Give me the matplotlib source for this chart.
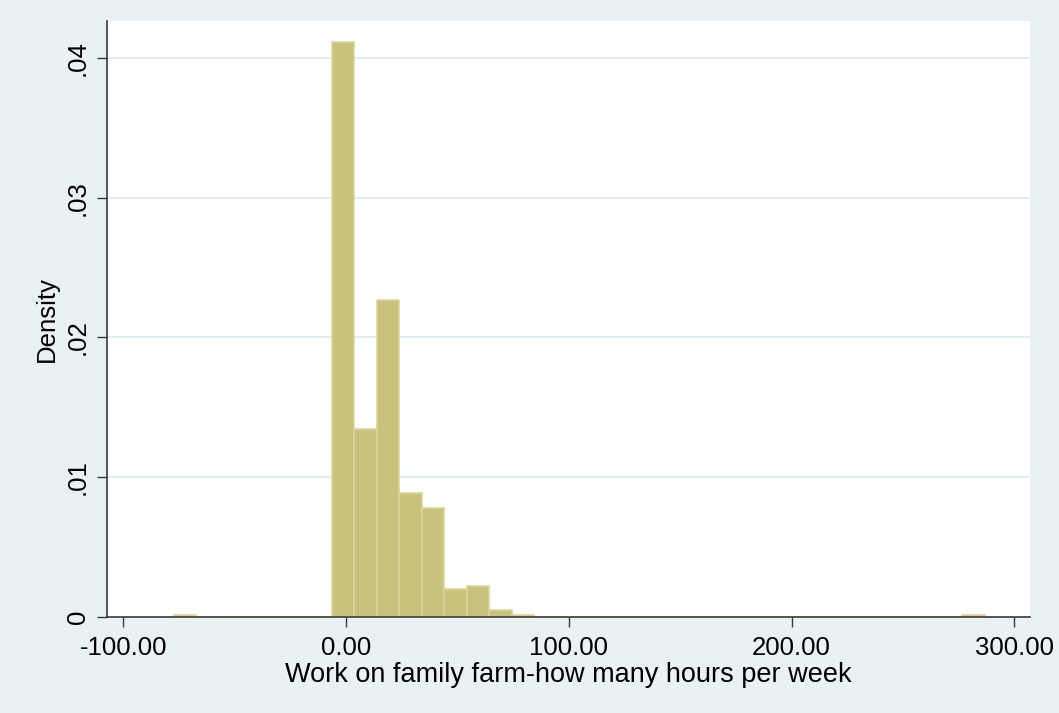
import matplotlib.pyplot as plt
import numpy as np

# histogram bins
bin_start = -77.3
bin_width = 10.11
density = [0.00008, 0, 0, 0, 0, 0, 0,
           0.04114, 0.01343, 0.02270, 0.00884, 0.00778, 0.00195, 0.00219,
           0.00049, 0.00008,
           0, 0, 0, 0, 0, 0, 0, 0, 0, 0, 0, 0, 0, 0, 0, 0, 0, 0, 0,
           0.00008]

x_ticks = [-100, 0, 100, 200, 300]
x_tick_labels = ['-100.00', '0.00', '100.00', '200.00', '300.00']
y_ticks = [0, 0.01, 0.02, 0.03, 0.04]
y_tick_labels = ['0', '.01', '.02', '.03', '.04']
x_title = 'Work on family farm-how many hours per week'
y_title = 'Density'

bg_color = '#EAF1F3'
bar_color = '#C9C27E'
edge_color = '#DBD59D'
axis_color = '#3A3A3A'

plt.rcParams['font.family'] = ['Liberation Sans', 'DejaVu Sans']

fig = plt.figure(figsize=(10.59, 7.13), dpi=100, facecolor=bg_color)
ax = fig.add_axes([107 / 1059, 1 - 616.5 / 713, (1030 - 107) / 1059, (616.5 - 21) / 713])
ax.set_facecolor('white')

bin_left = bin_start + bin_width * np.arange(len(density))
ax.bar(bin_left, density, width=bin_width, align='edge',
       color=bar_color, edgecolor=edge_color, linewidth=1.2, zorder=2)

ax.set_xlim(-107.3, 307.0)
ax.set_ylim(0, 0.04266)

for y in y_ticks[1:]:
    ax.axhline(y, color='#E3ECF0', linewidth=1.4, zorder=1)

ax.set_xticks(x_ticks)
ax.set_xticklabels(x_tick_labels)
ax.set_yticks(y_ticks)
ax.set_yticklabels(y_tick_labels, rotation=90, va='center')

ax.tick_params(axis='both', direction='out', length=7.2, width=1.0,
               color=axis_color, labelsize=18.5, labelcolor='black', pad=7)
ax.tick_params(axis='y', pad=5)

for side in ['top', 'right']:
    ax.spines[side].set_visible(False)
for side in ['left', 'bottom']:
    ax.spines[side].set_color(axis_color)
    ax.spines[side].set_linewidth(1.2)

ax.set_xlabel(x_title, fontsize=19.5, labelpad=1)
ax.set_ylabel(y_title, fontsize=18.5, labelpad=5)

fig.savefig('out.png', dpi=100, facecolor=bg_color)
